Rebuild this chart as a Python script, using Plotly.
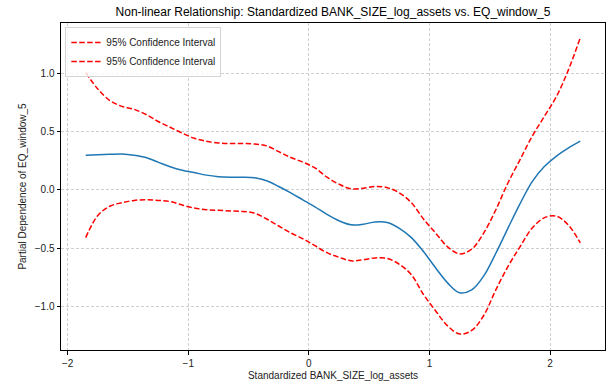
import plotly.graph_objects as go

# Standardized BANK_SIZE_log_assets grid
x_vals = [-1.85, -1.75, -1.65, -1.55, -1.45, -1.35, -1.25, -1.15, -1.05, -0.95,
          -0.85, -0.75, -0.65, -0.55, -0.45, -0.35, -0.25, -0.15, -0.05, 0.05,
          0.15, 0.25, 0.35, 0.45, 0.55, 0.65, 0.75, 0.85, 0.95, 1.05,
          1.15, 1.25, 1.35, 1.45, 1.55, 1.65, 1.75, 1.85, 1.95, 2.05,
          2.15, 2.25]

# Partial dependence estimate
pd_mean = [0.30, 0.303, 0.307, 0.31, 0.30, 0.28, 0.24, 0.20, 0.17, 0.15,
           0.128, 0.115, 0.11, 0.11, 0.105, 0.08, 0.03, -0.025, -0.085, -0.145,
           -0.21, -0.265, -0.30, -0.295, -0.275, -0.28, -0.33, -0.41, -0.53, -0.67,
           -0.80, -0.885, -0.86, -0.74, -0.545, -0.33, -0.12, 0.07, 0.20, 0.29,
           0.36, 0.42]

# 95% confidence bounds
ci_upper = [1.01, 0.87, 0.77, 0.72, 0.695, 0.65, 0.59, 0.54, 0.49, 0.445,
            0.42, 0.405, 0.40, 0.40, 0.395, 0.38, 0.33, 0.28, 0.24, 0.19,
            0.11, 0.05, 0.01, 0.015, 0.03, 0.02, -0.025, -0.11, -0.25, -0.37,
            -0.49, -0.55, -0.51, -0.37, -0.17, 0.06, 0.26, 0.46, 0.63, 0.80,
            1.03, 1.31]
ci_lower = [-0.41, -0.22, -0.14, -0.11, -0.09, -0.085, -0.09, -0.10, -0.13, -0.155,
            -0.17, -0.175, -0.18, -0.185, -0.20, -0.25, -0.31, -0.37, -0.42, -0.48,
            -0.54, -0.58, -0.61, -0.60, -0.585, -0.59, -0.64, -0.73, -0.90, -1.04,
            -1.17, -1.24, -1.21, -1.08, -0.86, -0.66, -0.49, -0.33, -0.24, -0.225,
            -0.30, -0.455]

x_ticks = [-2, -1, 0, 1, 2]
x_tick_text = ["\u22122", "\u22121", "0", "1", "2"]
y_ticks = [-1.0, -0.5, 0.0, 0.5, 1.0]
y_tick_text = ["\u22121.0", "\u22120.5", "0.0", "0.5", "1.0"]

FONT = "Liberation Sans, Arial, sans-serif"
DASH = "5.5px,2.4px"

fig = go.Figure()
fig.add_trace(go.Scatter(
    x=x_vals, y=pd_mean, mode="lines", showlegend=False,
    line=dict(color="#1f77b4", width=1.5, shape="spline", smoothing=1),
))
fig.add_trace(go.Scatter(
    x=x_vals, y=ci_upper, mode="lines", name="95% Confidence Interval",
    line=dict(color="red", width=1.5, dash=DASH, shape="spline", smoothing=1),
))
fig.add_trace(go.Scatter(
    x=x_vals, y=ci_lower, mode="lines", name="95% Confidence Interval",
    line=dict(color="red", width=1.5, dash=DASH, shape="spline", smoothing=1),
))

axis_common = dict(
    showline=True, linecolor="black", linewidth=1, mirror=True,
    ticks="outside", ticklen=3.5, tickwidth=0.8, tickcolor="black",
    showgrid=True, gridcolor="#cfcfcf", gridwidth=0.8, griddash="3px,2px",
    zeroline=False, tickfont=dict(family=FONT, size=10, color="#222"),
)

fig.update_layout(
    width=606, height=382,
    margin=dict(l=61, r=1, t=23, b=32),
    paper_bgcolor="white", plot_bgcolor="white",
    title=dict(
        text="Non-linear Relationship: Standardized BANK_SIZE_log_assets vs. EQ_window_5",
        x=(61 + 605) / 2 / 606, xanchor="center", y=1 - 12 / 382, yanchor="middle",
        font=dict(family=FONT, size=12, color="black"),
    ),
    xaxis=dict(
        range=[-2.055, 2.455], tickvals=x_ticks, ticktext=x_tick_text,
        title=dict(text="Standardized BANK_SIZE_log_assets", standoff=4,
                   font=dict(family=FONT, size=10, color="#222")),
        **axis_common,
    ),
    yaxis=dict(
        range=[-1.378, 1.438], tickvals=y_ticks, ticktext=y_tick_text,
        title=dict(text="Partial Dependence of EQ_window_5", standoff=6,
                   font=dict(family=FONT, size=10, color="#222")),
        **axis_common,
    ),
    legend=dict(
        x=0.008, y=0.988, xanchor="left", yanchor="top",
        bgcolor="rgba(255,255,255,0.8)", bordercolor="#d5d5d5", borderwidth=1,
        font=dict(family=FONT, size=10, color="#222"),
        tracegroupgap=0, itemwidth=30,
    ),
)

fig.write_html("out.html")
